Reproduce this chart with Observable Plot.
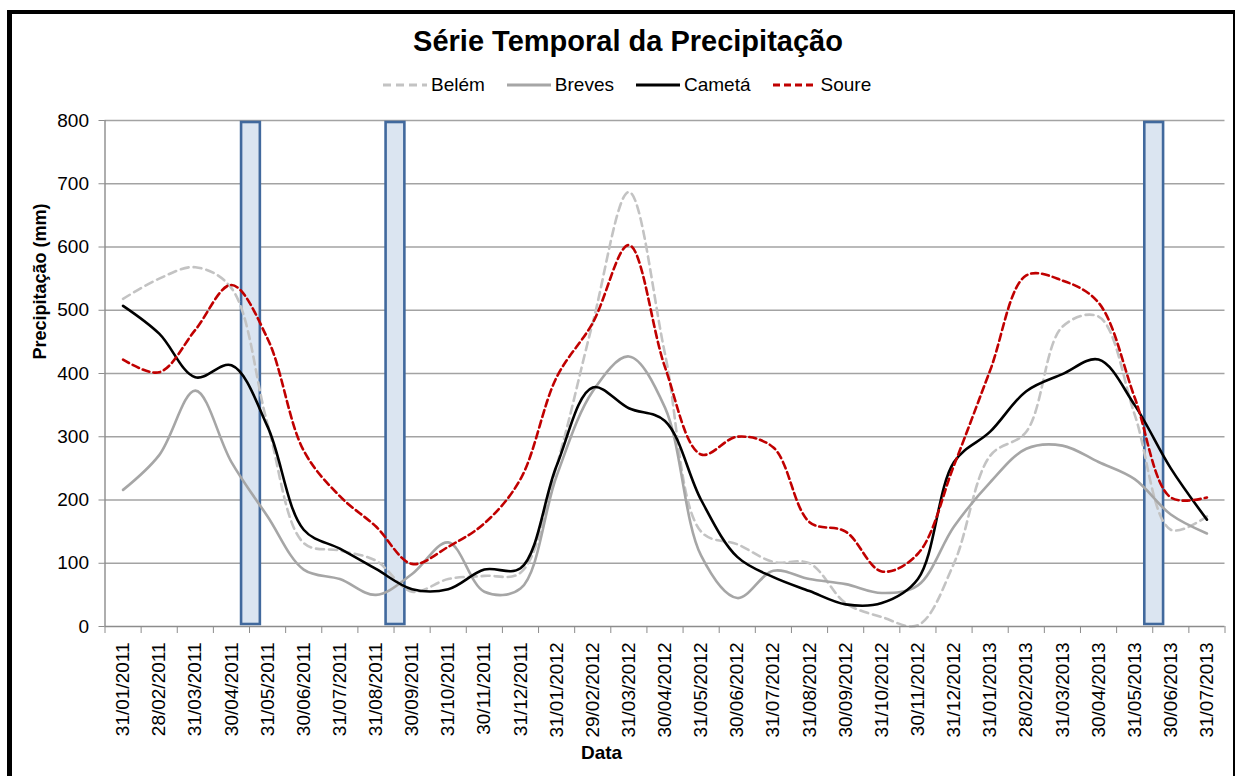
<!DOCTYPE html>
<html>
<head>
<meta charset="utf-8">
<script src="https://cdn.jsdelivr.net/npm/d3@7"></script>
<script src="https://cdn.jsdelivr.net/npm/@observablehq/plot@0.6"></script>
<style>
  html, body { margin: 0; padding: 0; background: #fff; }
  body { width: 1235px; height: 776px; position: relative; overflow: hidden; font-family: "Liberation Sans", Arial, sans-serif; }
  #frame { position: absolute; left: 7px; top: 10px; width: 1221px; height: 800px; border-left: 5px solid #000; border-top: 4px solid #000; border-right: 3px solid #000; box-sizing: content-box; pointer-events: none; z-index: 3; }
  #title { position: absolute; left: 0; width: 1256px; top: 27px; line-height: 29px; text-align: center; font-size: 29px; font-weight: bold; color: #000; z-index: 2; }
  #legend { position: absolute; left: 383px; top: 75px; display: flex; align-items: center; gap: 22px; font-size: 19px; line-height: 19px; color: #000; z-index: 2; }
  .item { display: flex; align-items: center; gap: 4px; }
  #chart { position: absolute; left: 0; top: 0; }
</style>
</head>
<body>
<div id="frame"></div>
<div id="title">Série Temporal da Precipitação</div>
<div id="legend"></div>
<div id="chart"></div>
<script>
const dates = ["31/01/2011","28/02/2011","31/03/2011","30/04/2011","31/05/2011","30/06/2011","31/07/2011","31/08/2011","30/09/2011","31/10/2011","30/11/2011","31/12/2011","31/01/2012","29/02/2012","31/03/2012","30/04/2012","31/05/2012","30/06/2012","31/07/2012","31/08/2012","30/09/2012","31/10/2012","30/11/2012","31/12/2012","31/01/2013","28/02/2013","31/03/2013","30/04/2013","31/05/2013","30/06/2013","31/07/2013"];
const belem  = [518, 550, 568, 535, 320, 132, 120, 104, 55, 75, 80, 85, 254, 480, 687, 431, 150, 130, 102, 100, 37, 15, 2, 100, 270, 308, 474, 490, 335, 153, 174];
const breves = [216, 271, 373, 260, 174, 90, 75, 50, 83, 133, 55, 60, 238, 372, 427, 346, 112, 45, 88, 75, 67, 53, 65, 158, 228, 281, 286, 260, 233, 177, 147];
const cameta = [507, 463, 394, 413, 316, 153, 123, 91, 59, 59, 90, 92, 254, 378, 345, 325, 200, 110, 78, 56, 35, 37, 75, 260, 308, 372, 399, 422, 350, 250, 169];
const soure  = [422, 402, 469, 540, 455, 278, 206, 158, 99, 126, 163, 233, 394, 480, 603, 410, 272, 300, 283, 165, 150, 87, 115, 255, 405, 555, 547, 512, 362, 204, 204];
const seriesNames = ["Belém", "Breves", "Cametá", "Soure"];
const yTicks = [0, 100, 200, 300, 400, 500, 600, 700, 800];
const highlighted = ["31/05/2011", "30/09/2011", "30/06/2013"];

const styles = {
  "Belém":  {stroke: "#c3c3c3", dash: "8,5"},
  "Breves": {stroke: "#a6a6a6", dash: null},
  "Cametá": {stroke: "#000000", dash: null},
  "Soure":  {stroke: "#c00000", dash: "7,4"}
};
const valuesByName = {"Belém": belem, "Breves": breves, "Cametá": cameta, "Soure": soure};
const rows = name => dates.map((d, i) => ({x: i + 0.5, y: valuesByName[name][i], date: d}));
const boxes = highlighted.map(d => ({x1: dates.indexOf(d) - 0.22, x2: dates.indexOf(d) + 0.3}));

const gray = "#8c8c8c";
const lineMarks = seriesNames.map(name => Plot.line(rows(name), {
  x: "x", y: "y", curve: "catmull-rom",
  stroke: styles[name].stroke, strokeWidth: 2.6,
  strokeDasharray: styles[name].dash || undefined
}));

const chart = Plot.plot({
  width: 1235, height: 776,
  marginLeft: 104.5, marginRight: 10.5, marginTop: 120, marginBottom: 150,
  style: {fontFamily: "'Liberation Sans', Arial, sans-serif", fontSize: "19px", color: "#000", background: "transparent"},
  x: {domain: [0, dates.length], label: null},
  y: {domain: [0, 800], label: null},
  marks: [
    Plot.gridY(yTicks.slice(1), {stroke: "#a3a3a3", strokeOpacity: 1, strokeWidth: 1.4}),
    Plot.rect(boxes, {x1: "x1", x2: "x2", y1: 0, y2: 800, insetTop: 2, insetBottom: 2, fill: "#dbe5f1", stroke: "#41699d", strokeWidth: 2.6}),
    ...lineMarks,
    Plot.ruleY([0], {stroke: gray, strokeWidth: 1.4}),
    Plot.ruleX([0], {stroke: gray, strokeWidth: 1.4}),
    Plot.axisY(yTicks, {tickSize: 6, tickPadding: 10, stroke: gray, fill: "#000", fontSize: 19, label: null}),
    Plot.axisX(d3.range(dates.length + 1), {tickSize: 7, tickFormat: () => "", stroke: gray, label: null}),
    Plot.axisX(dates.map((d, i) => i + 0.5), {tickSize: 0, tickPadding: 16, tickRotate: -90, tickFormat: v => dates[Math.floor(v)], fill: "#000", fontSize: 19, label: null}),
    Plot.text(["Precipitação (mm)"], {frameAnchor: "left", dx: -64.5, dy: -14, rotate: -90, fontWeight: "bold", fontSize: 18, fill: "#000"}),
    Plot.text(["Data"], {frameAnchor: "bottom", dx: -63.5, dy: 132, fontWeight: "bold", fontSize: 19, fill: "#000"})
  ]
});
document.getElementById("chart").appendChild(chart);

// legend
const legend = document.getElementById("legend");
for (const name of seriesNames) {
  const item = document.createElement("div");
  item.className = "item";
  const s = styles[name];
  item.innerHTML = `<svg width="44" height="10"><line x1="0" y1="5" x2="44" y2="5" stroke="${s.stroke}" stroke-width="3" ${s.dash ? `stroke-dasharray="${s.dash}"` : ""}/></svg><span>${name}</span>`;
  legend.appendChild(item);
}
</script>
</body>
</html>
